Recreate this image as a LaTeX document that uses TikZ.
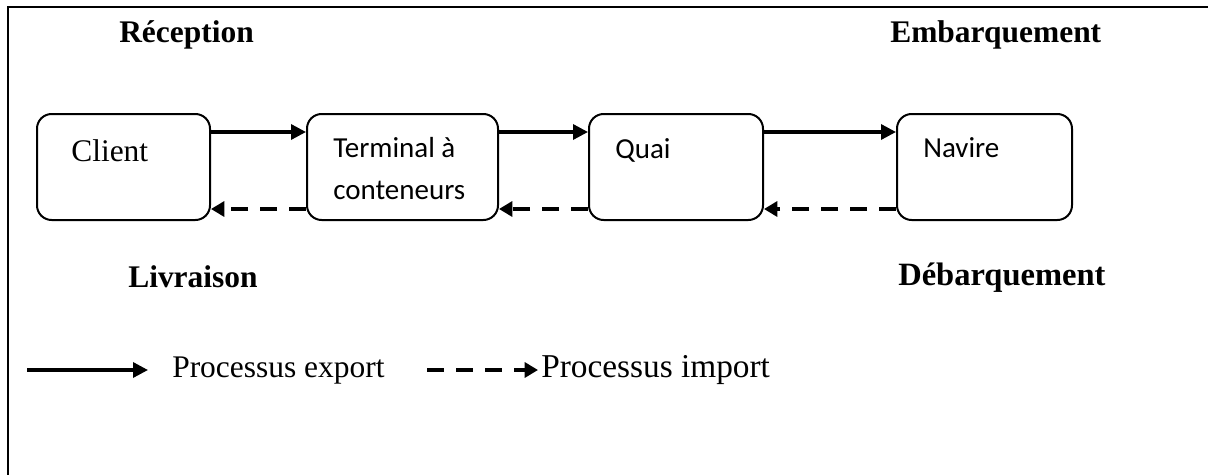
\documentclass[tikz,border=0pt]{standalone}
\usepackage{fontspec}
\setmainfont{Liberation Serif}
\newfontfamily\calib{Carlito}
\usetikzlibrary{arrows.meta,calc}

\tikzset{
  stagebox/.style={draw=black, line width=1.5pt, rounded corners=11pt, fill=white, inner sep=0pt},
  serif/.style={inner sep=0pt, anchor=base west, font=\fontsize{23.6}{28}\selectfont},
  heading/.style={serif, font=\fontsize{23.6}{28}\selectfont\bfseries},
  sans/.style={inner sep=0pt, anchor=base west, font=\calib\fontsize{21.75}{26}\selectfont},
  export/.style={line width=2.5pt, -{Triangle[length=11.25pt, width=11.25pt]}},
  import/.style={line width=2.4pt, dash pattern=on 12.75pt off 9pt, -{Triangle[length=10pt, width=11.25pt]}},
}

\begin{document}
\begin{tikzpicture}[x=0.75pt, y=-0.75pt]
  \useasboundingbox (0,0) rectangle (1208,475);
  \fill[white] (0,0) rectangle (1208,475);

  % frame (top and left edges)
  \draw[line width=1.9pt] (8,475) -- (8,7) -- (1208,7);

  % stages
  \node[stagebox, minimum width=129.75pt, minimum height=79.5pt] (client) at (123.5,167) {};
  \node[stagebox, minimum width=143.25pt, minimum height=79.5pt] (term)   at (402.5,167) {};
  \node[stagebox, minimum width=130.5pt,  minimum height=79.5pt] (quai)   at (676,167) {};
  \node[stagebox, minimum width=131.25pt, minimum height=79.5pt] (navire) at (984.5,167) {};

  % stage names
  \node[serif] (tclient) at (71,161) {Client};
  \node[sans] (tterm1) at (333,157) {Terminal à};
  \node[sans] (tterm2) at (333,199) {conteneurs};
  \node[sans] (tquai) at (615,158) {Quai};
  \node[sans] (tnavire) at (923,157) {Navire};

  % export flow
  \draw[export] ([yshift=-14.25pt]client.north east) -- ([yshift=-14.25pt]term.north west);
  \draw[export] ([yshift=-14.25pt]term.north east) -- ([yshift=-14.25pt]quai.north west);
  \draw[export] ([yshift=-14.25pt]quai.north east) -- ([yshift=-14.25pt]navire.north west);

  % import flow
  \draw[import] ([yshift=9pt]term.south west) -- ([yshift=9pt]client.south east);
  \draw[import] ([yshift=9pt]quai.south west) -- ([yshift=9pt]term.south east);
  \draw[import] ([yshift=9pt]navire.south west) -- ([yshift=9pt]quai.south east);

  % phase headings
  \node[heading] (reception) at (119,42) {Réception};
  \node[heading] (embarq) at (890,42) {Embarquement};
  \node[heading] (livraison) at (128,287) {Livraison};
  \node[heading, font=\fontsize{24.4}{28}\selectfont\bfseries] (debarq) at (898,285) {Débarquement};

  % legend
  \coordinate (exA) at (27,370);
  \coordinate (exB) at (148,370);
  \coordinate (imA) at (427,370);
  \coordinate (imB) at (538,370);
  \draw[export] (exA) -- (exB);
  \draw[import] (imA) -- (imB);
  \node[serif] (lexport) at (172,377) {Processus export};
  \node[serif, font=\fontsize{25}{28}\selectfont] (limport) at (541,377) {Processus import};
\end{tikzpicture}
\end{document}
